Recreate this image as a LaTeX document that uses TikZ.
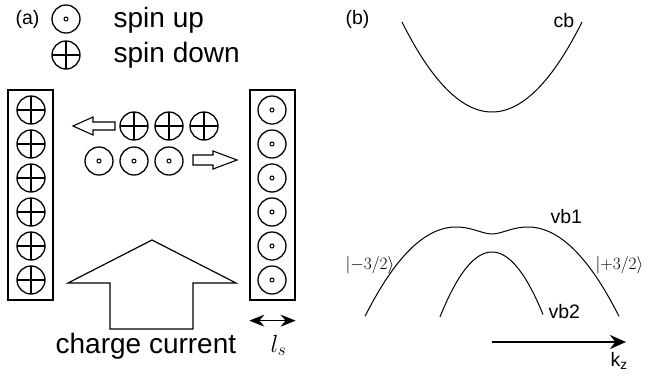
\documentclass[tikz,border=0pt]{standalone}
\usepackage{fontspec}
\setmainfont{Liberation Sans}
\usetikzlibrary{arrows.meta, positioning}

\begin{document}
\begin{tikzpicture}[x=1pt, y=-1pt, >=Stealth, line width=1.3pt,
  spinup/.style={circle, draw, minimum size=28pt, inner sep=0pt,
    path picture={\draw[line width=1pt] (path picture bounding box.center) circle (2pt);}},
  spindown/.style={circle, draw, minimum size=28pt, inner sep=0pt,
    path picture={\draw (path picture bounding box.north) -- (path picture bounding box.south)
      (path picture bounding box.west) -- (path picture bounding box.east);}},
  layer/.style={draw, minimum width=45pt, minimum height=210pt, inner sep=0pt},
  bigtext/.style={font=\fontsize{28}{30}\selectfont, anchor=base west, inner sep=0pt},
  smalltext/.style={font=\fontsize{19.5}{22}\selectfont, anchor=base west, inner sep=0pt},
  band/.style={line width=1pt}]
  \useasboundingbox (0,0) rectangle (648,376);

  % Legend
  \node[smalltext] (panela) at (15,24) {(a)};
  \node[spinup] (legendup) at (66,19) {};
  \node[spindown] (legenddown) at (66,55) {};
  \node[bigtext] (uplabel) at (113,27) {spin up};
  \node[bigtext] (downlabel) at (113,62) {spin down};

  % Layers with accumulated spins
  \node[layer] (leftlayer) at (30.5,195) {};
  \node[layer] (rightlayer) at (272.5,195) {};
  \foreach \i in {0,...,5} {
    \node[spindown] (down\i) at (31,110+34*\i) {};
    \node[spinup] (up\i) at (272,110+34*\i) {};
  }

  % Moving spins
  \foreach \i/\x in {1/134,2/169,3/204} \node[spindown] (movdown\i) at (\x,126) {};
  \foreach \i/\x in {1/99,2/134,3/169} \node[spinup] (movup\i) at (\x,161) {};
  \draw[line width=1.1pt] (73,126) -- (93,117) -- (93,122) -- (115,122) -- (115,130)
    -- (93,130) -- (93,135) -- cycle;
  \draw[line width=1.1pt] (237,160) -- (213,151) -- (213,155) -- (193,155) -- (193,165)
    -- (213,165) -- (213,169) -- cycle;

  % Charge current
  \draw[line width=1.2pt] (152,240) -- (236,283) -- (193,283) -- (193,329) -- (110,329)
    -- (110,283) -- (68,283) -- cycle;
  \node[bigtext] (current) at (55,353) {charge current};

  % Spin diffusion length
  \coordinate (lsleft) at ([yshift=-20pt]rightlayer.south west);
  \coordinate (lsright) at ([yshift=-20pt]rightlayer.south east);
  \draw[{Stealth[length=15pt,width=12pt]}-{Stealth[length=15pt,width=12pt]}, line width=1.6pt]
    (lsleft) -- (lsright);
  \node[anchor=base west, inner sep=0pt, font=\fontsize{26}{28}\selectfont] (ls) at (270,352) {$l_s$};

  % Bands
  \node[smalltext] (panelb) at (345,24) {(b)};
  \draw[band] plot[smooth, domain=-90:90, samples=61] ({492+\x}, {112-\x*\x/90});
  \draw[band] plot[smooth, domain=-127:127, samples=101]
    ({492+\x}, {227+(10*sqrt((\x/10)^2+1.69)-38)^2/90});
  \draw[band] plot[smooth, domain=-52:51, samples=61] ({492+\x}, {252+0.024*\x*\x});
  \node[smalltext] (cb) at (553,27) {cb};
  \node[smalltext] (vb1) at (550,223) {vb1};
  \node[smalltext] (vb2) at (548,318) {vb2};
  \node[anchor=base west, inner sep=0pt, font=\fontsize{18}{20}\selectfont] (ketminus) at (345,269) {$|{-}3/2\rangle$};
  \node[anchor=base west, inner sep=0pt, font=\fontsize{18}{20}\selectfont] (ketplus) at (595,269) {$|{+}3/2\rangle$};

  % k_z axis
  \coordinate (kstart) at (492,342);
  \coordinate (kend) at (626,342);
  \draw[-{Stealth[length=16pt,width=14pt]}, line width=2pt] (kstart) -- (kend);
  \node[smalltext] (kz) at (610,366) {k\textsubscript{z}};
\end{tikzpicture}
\end{document}
